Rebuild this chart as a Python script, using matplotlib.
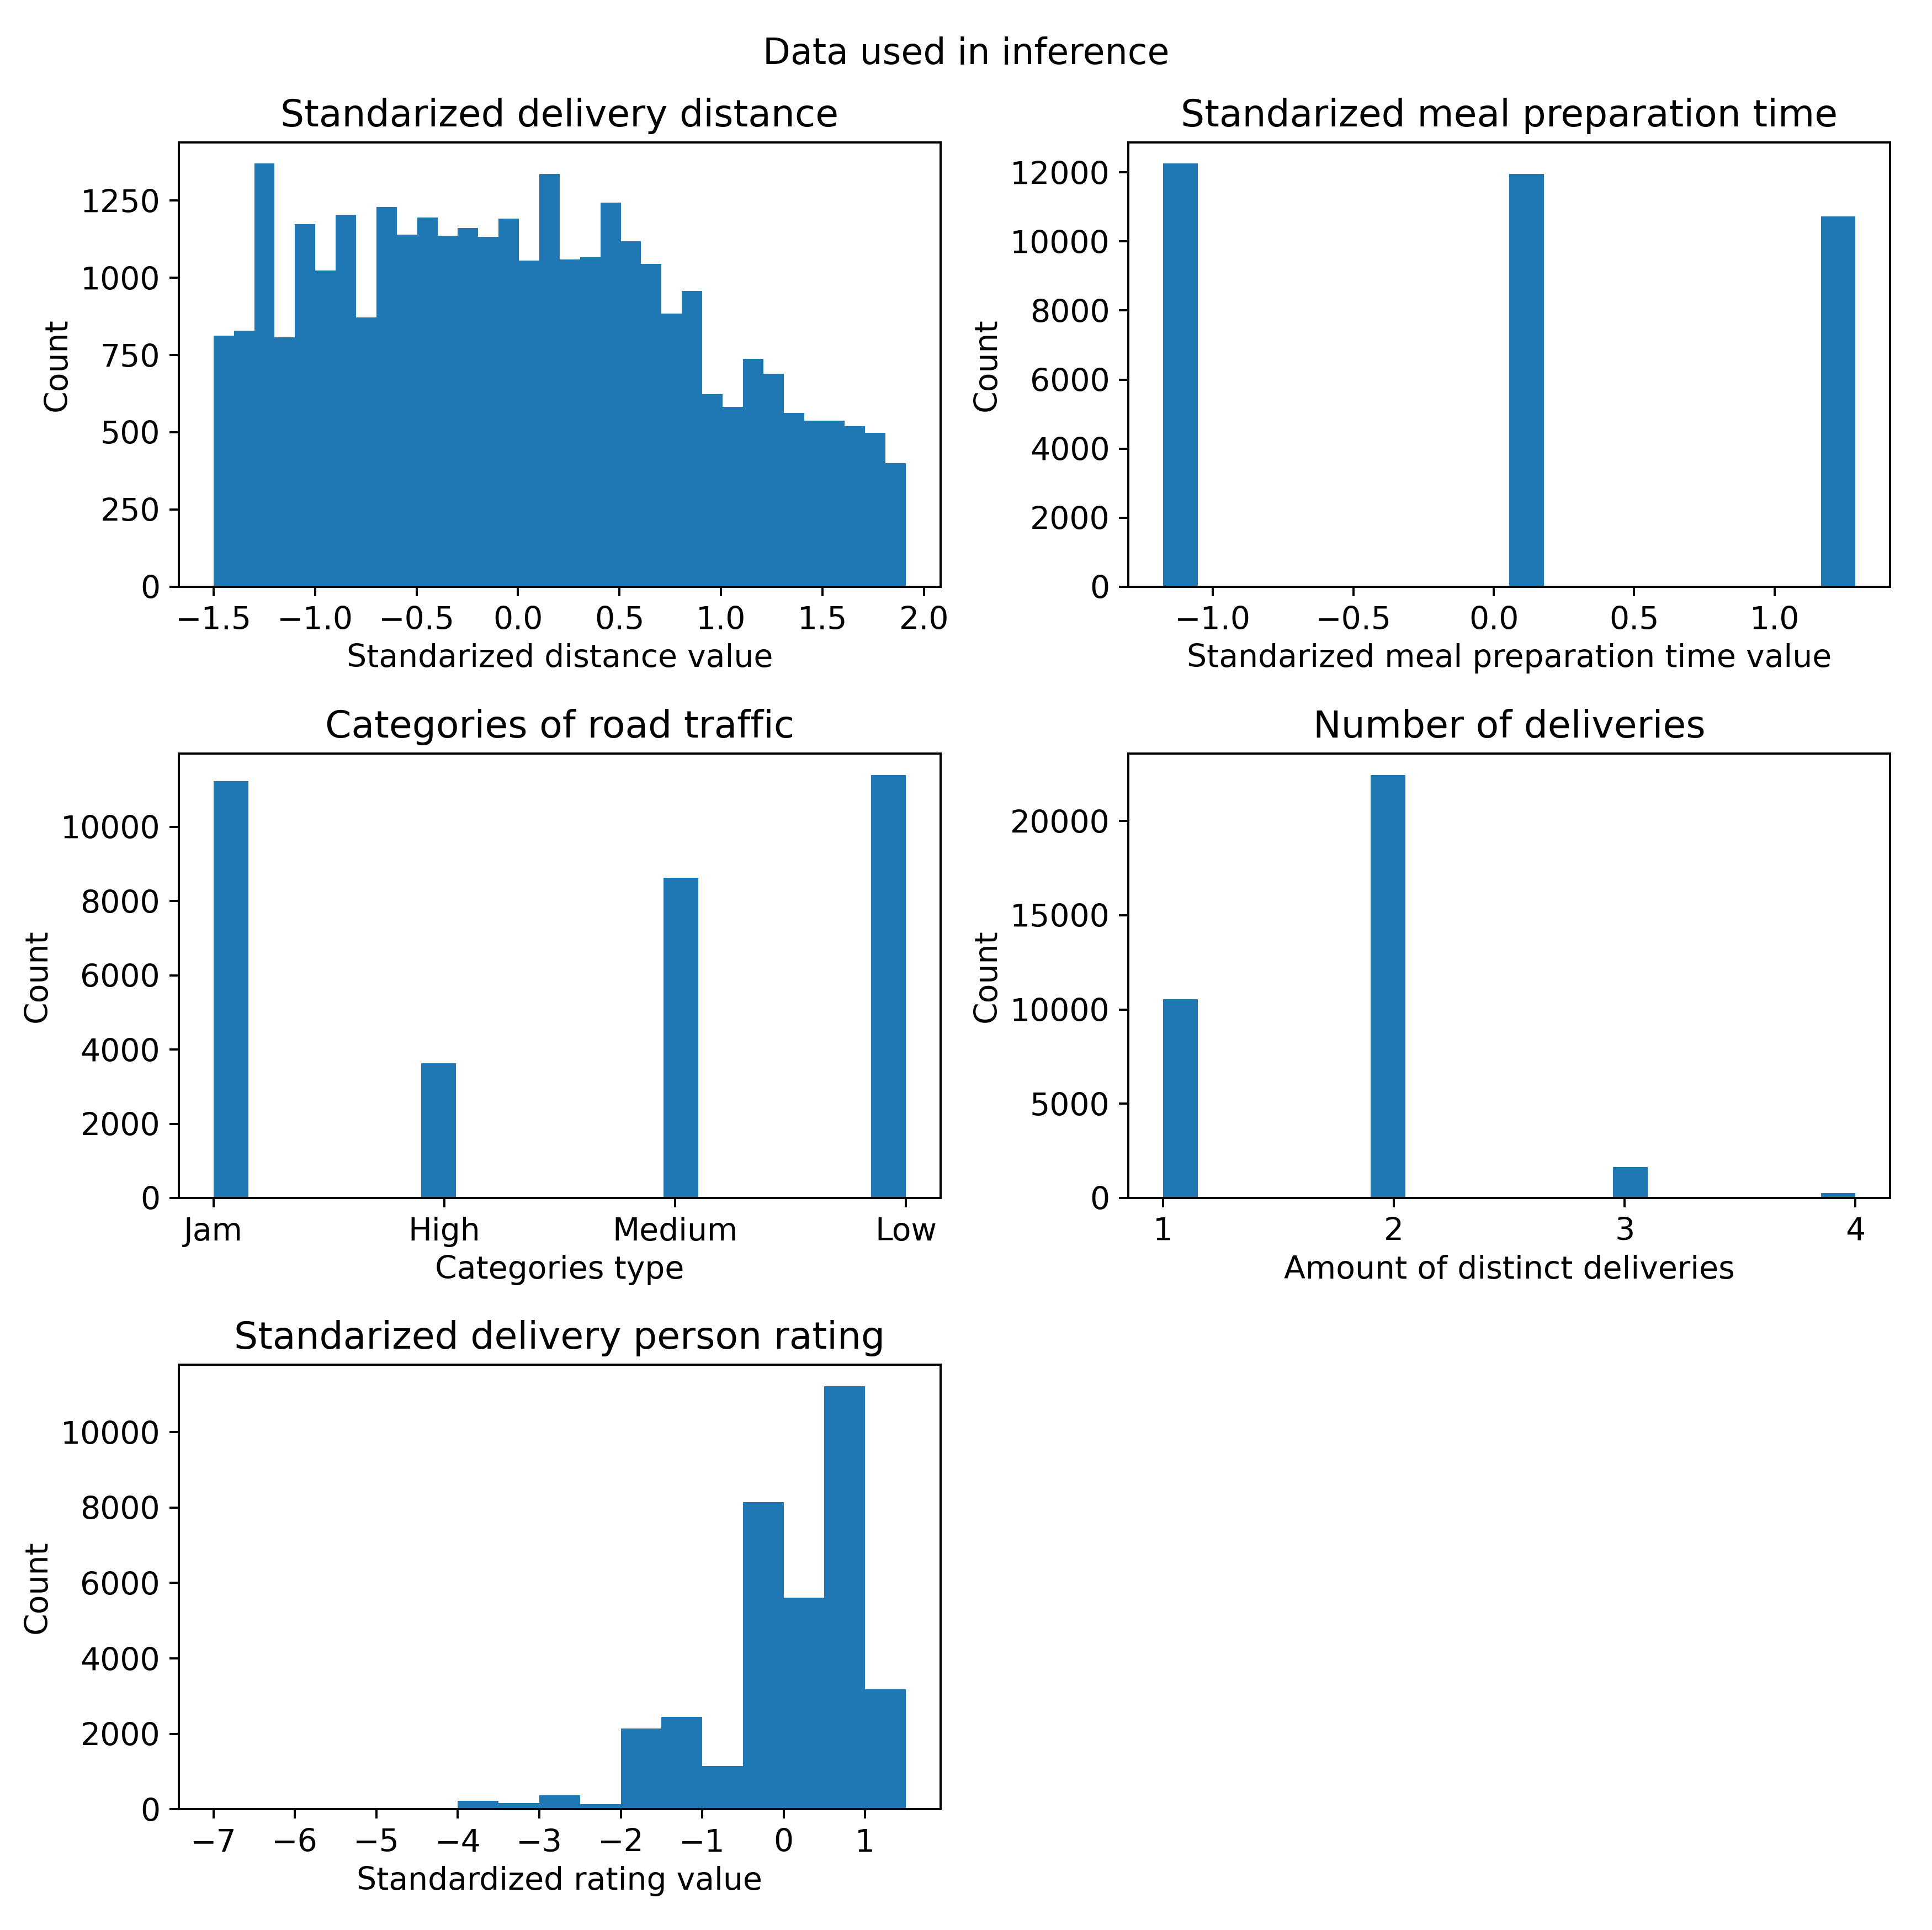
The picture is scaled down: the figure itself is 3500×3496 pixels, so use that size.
import numpy as np
import matplotlib.pyplot as plt

# distance histogram: 34 bins between -1.5 and 1.91
dist_edges = np.linspace(-1.5, 1.91, 35)
dist_counts = [812, 829, 1370, 808, 1174, 1024, 1205, 871, 1229, 1140,
               1196, 1136, 1161, 1133, 1191, 1056, 1337, 1059, 1066, 1244,
               1119, 1045, 884, 958, 624, 582, 738, 690, 562, 537,
               537, 520, 499, 399]

# meal preparation time: 3 distinct standardized values, 20 bins
meal_values = [-1.15, 0.11, 1.23]
meal_counts = [12257, 11964, 10723]
meal_range = (-1.177, 1.288)

# road traffic categories
traffic_labels = ['Jam', 'High', 'Medium', 'Low']
traffic_counts = [11234, 3628, 8630, 11404]

# number of deliveries
deliv_values = [1, 2, 3, 4]
deliv_counts = [10546, 22452, 1629, 252]

# delivery person rating, bins of 0.5 from -7 to 1.5
rating_edges = np.arange(-7.0, 1.51, 0.5)
rating_counts = [3, 25, 0, 0, 20, 20, 224, 168, 364, 131,
                 2140, 2449, 1140, 8150, 5617, 11224, 3187]

plt.rcParams['font.size'] = 11.7
plt.rcParams['axes.titlesize'] = 14
plt.rcParams['axes.labelpad'] = 2.8

fig, axs = plt.subplots(3, 2, figsize=(10, 3496 / 350), dpi=350)
fig.subplots_adjust(left=0.0926, right=0.9783, bottom=0.0626, top=0.9262,
                    wspace=0.247, hspace=0.376)
fig.suptitle('Data used in inference', fontsize=13.35, y=0.981)

ax = axs[0, 0]
centers = (dist_edges[:-1] + dist_edges[1:]) / 2
ax.hist(centers, bins=dist_edges, weights=dist_counts)
ax.set_title('Standarized delivery distance')
ax.set_xlabel('Standarized distance value')
ax.set_ylabel('Count')

ax = axs[0, 1]
ax.hist(meal_values, bins=20, range=meal_range, weights=meal_counts)
ax.set_title('Standarized meal preparation time')
ax.set_xlabel('Standarized meal preparation time value')
ax.set_ylabel('Count')

ax = axs[1, 0]
pos = np.arange(len(traffic_labels))
ax.hist(pos, bins=20, weights=traffic_counts)
ax.set_xticks(pos)
ax.set_xticklabels(traffic_labels)
ax.set_title('Categories of road traffic')
ax.set_xlabel('Categories type')
ax.set_ylabel('Count')

ax = axs[1, 1]
ax.hist(deliv_values, bins=20, weights=deliv_counts)
ax.set_xticks(deliv_values)
ax.set_title('Number of deliveries')
ax.set_xlabel('Amount of distinct deliveries')
ax.set_ylabel('Count')

ax = axs[2, 0]
rc = (rating_edges[:-1] + rating_edges[1:]) / 2
ax.hist(rc, bins=rating_edges, weights=rating_counts)
ax.set_xticks(range(-7, 2))
ax.set_title('Standarized delivery person rating')
ax.set_xlabel('Standardized rating value')
ax.set_ylabel('Count')

axs[2, 1].axis('off')

fig.savefig('out.png', dpi=350)
